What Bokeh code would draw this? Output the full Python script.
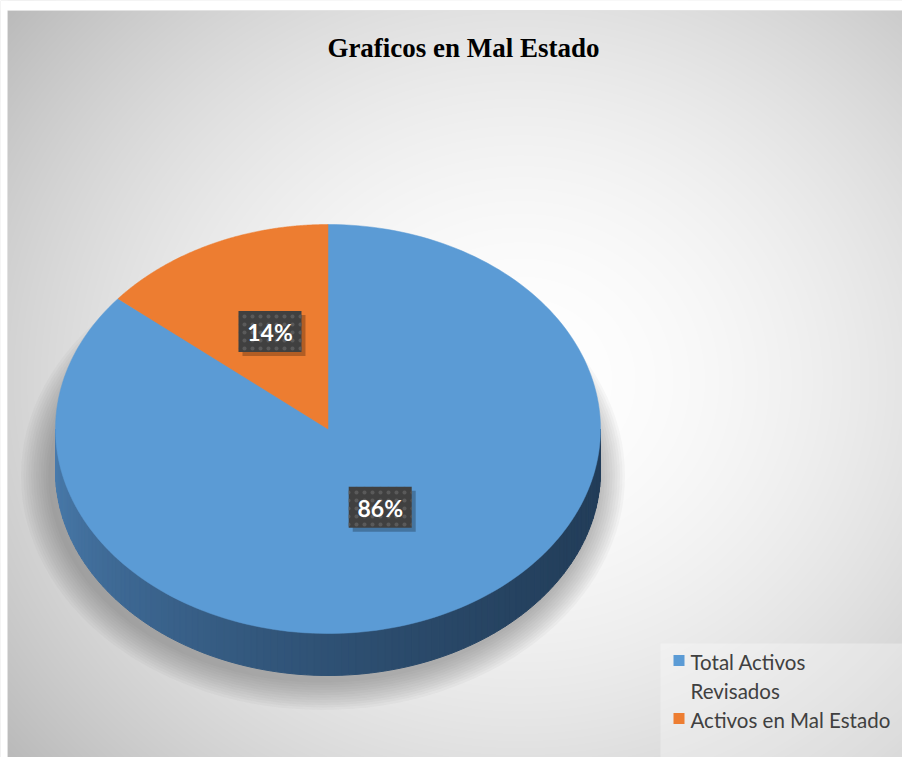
import numpy as np
from bokeh.plotting import figure
from bokeh.models import Range1d
from bokeh.core.properties import value
from bokeh.embed import file_html
from bokeh.resources import INLINE

# ---------------- data ----------------
categories = ["Total Activos Revisados", "Activos en Mal Estado"]
values = [86, 14]
slice_colors = ["#5B9BD5", "#ED7D31"]
side_left_colors = ["#4A7CAE", "#C0652A"]
side_right_colors = ["#223D59", "#5E3214"]
legend_lines = [["Total Activos", "Revisados"], ["Activos en Mal Estado"]]
title_text = "Graficos en Mal Estado"

# ---------------- layout (screen pixels) ----------------
W, H = 902, 757
OX, OY = 0, 0


def px(xs):
    return list(np.asarray(xs, dtype=float) - OX)


def py(ys):
    return list((H + OY) - np.asarray(ys, dtype=float))


CX, CY, RX, RY, DEPTH = 327.5, 428.5, 272.5, 204.5, 42
LABEL_R = [0.45, 0.50]
LABEL_LIFT = -5

p = figure(width=W, height=H, x_range=Range1d(0, W), y_range=Range1d(0, H),
           output_backend="svg", toolbar_location=None, min_border=0,
           x_axis_type=None, y_axis_type=None)
p.grid.visible = False
p.outline_line_color = None
p.background_fill_color = "white"
p.border_fill_color = "white"

# ---------------- background radial gradient ----------------
rows, cols = np.mgrid[0:H, 0:W]
sxs = cols + OX + 0.5
sys_ = (H + OY) - (rows + 0.5)
d = np.sqrt(((sxs - 520) / 520.0) ** 2 + ((sys_ - 380) / 470.0) ** 2)
v = np.clip(255 - 45 * d ** 1.8, 150, 255).astype(np.uint32)
img = (np.uint32(255) << 24) | (v << 16) | (v << 8) | v
p.image_rgba(image=[img.astype(np.uint32)], x=0, y=0, dw=W, dh=H)

# chart frame border
p.line(x=px([7, 7, 902]), y=py([757, 10, 10]), line_color="#C4C4C4", line_width=1)
p.quad(left=0, right=px([7])[0], top=H, bottom=0, fill_color="white", line_color=None)
p.quad(left=0, right=W, top=H, bottom=py([10])[0], fill_color="white", line_color=None)

# ---------------- shadow under the pie ----------------
for k in range(12):
    grow = 2 + k * 2.5
    p.ellipse(x=px([CX - 5])[0], y=py([CY + DEPTH + 5])[0],
              width=2 * (RX + grow), height=2 * (RY + grow),
              fill_color="#606060", fill_alpha=0.045, line_color=None)

# ---------------- pie geometry ----------------
total = float(sum(values))
starts, ends = [], []
a = 90.0
for val in values:
    span = val / total * 360.0
    starts.append(a)
    ends.append(a - span)
    a -= span


def slice_of(angle_deg):
    ang = angle_deg % 360
    for i, (s, e) in enumerate(zip(starts, ends)):
        lo, hi = e % 360, s % 360
        if lo <= hi:
            if lo <= ang <= hi:
                return i
        else:
            if ang >= lo or ang <= hi:
                return i
    return 0


def hex2rgb(h):
    h = h.lstrip("#")
    return np.array([int(h[i:i + 2], 16) for i in (0, 2, 4)], dtype=float)


def rgb2hex(c):
    c = np.clip(np.round(c), 0, 255).astype(int)
    return "#%02X%02X%02X" % tuple(c)


# side wall (front half)
N = 120
ts = np.linspace(np.pi, 2 * np.pi, N + 1)
side_xs, side_ys, side_cols = [], [], []
for i in range(N):
    ta, tb = ts[i], ts[i + 1]
    tm = 0.5 * (ta + tb)
    k = slice_of(np.degrees(tm))
    xa, xb = CX + RX * np.cos(ta), CX + RX * np.cos(tb)
    ya, yb = CY - RY * np.sin(ta), CY - RY * np.sin(tb)
    side_xs.append(px([xa, xb, xb, xa]))
    side_ys.append(py([ya, yb, yb + DEPTH, ya + DEPTH]))
    f = ((CX + RX * np.cos(tm)) - (CX - RX)) / (2 * RX)
    f = f ** 0.55
    c = hex2rgb(side_left_colors[k]) * (1 - f) + hex2rgb(side_right_colors[k]) * f
    side_cols.append(rgb2hex(c))
p.patches(xs=side_xs, ys=side_ys, fill_color=side_cols, line_color=side_cols,
          line_width=1)

# top faces
for i in range(len(values)):
    tt = np.radians(np.linspace(starts[i], ends[i], 200))
    xs = [CX] + list(CX + RX * np.cos(tt))
    ys = [CY] + list(CY - RY * np.sin(tt))
    p.patch(x=px(xs), y=py(ys), fill_color=slice_colors[i],
            line_color=slice_colors[i], line_width=0.5)

# ---------------- data labels ----------------
for i in range(len(values)):
    mid = np.radians(0.5 * (starts[i] + ends[i]))
    lx = CX + LABEL_R[i] * RX * np.cos(mid)
    ly = CY - LABEL_R[i] * RY * np.sin(mid) + LABEL_LIFT
    pct = "%d%%" % round(values[i] / total * 100)
    bw, bh = 63, 41
    p.rect(x=px([lx + 4])[0], y=py([ly + 4])[0], width=bw, height=bh,
           fill_color="black", fill_alpha=0.25, line_color=None)
    p.rect(x=px([lx])[0], y=py([ly])[0], width=bw, height=bh,
           fill_color="#404040", line_color=None,
           hatch_pattern="dot", hatch_color="#5A5A5A", hatch_scale=8,
           hatch_weight=2)
    p.text(x=px([lx])[0], y=py([ly + 1])[0], text=[pct],
           text_font=value("Lato"), text_font_style="bold",
           text_font_size="23px", text_color="white",
           text_align="center", text_baseline="middle")

# ---------------- title ----------------
p.text(x=px([463])[0], y=py([47])[0], text=[title_text],
       text_font=value("Liberation Serif"), text_font_style="bold",
       text_font_size="27px", text_color="black",
       text_align="center", text_baseline="middle")

# ---------------- legend ----------------
p.quad(left=px([660])[0], right=px([902])[0], top=py([643])[0], bottom=py([757])[0],
       fill_color="white", fill_alpha=0.3, line_color=None)
row_y = 660
for i, lines in enumerate(legend_lines):
    p.rect(x=px([678.5])[0], y=py([row_y])[0], width=11, height=11,
           fill_color=slice_colors[i], line_color=None)
    for line in lines:
        p.text(x=px([690])[0], y=py([row_y + 1])[0], text=[line],
               text_font=value("Lato"), text_font_size="20.5px",
               text_color="#404040", text_align="left", text_baseline="middle")
        row_y += 29

open("out.html", "w").write(file_html(p, INLINE))
